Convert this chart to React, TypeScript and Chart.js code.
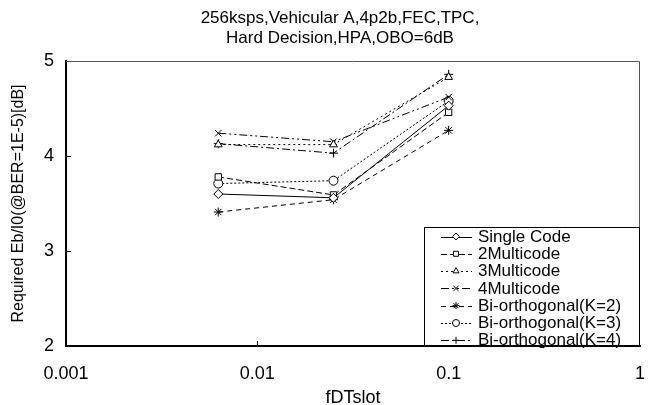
import React, { useEffect, useRef } from "react";
import { Chart, registerables } from "chart.js";
import { drawPoint } from "chart.js/helpers";

Chart.register(...registerables);

const titleLines = ["256ksps,Vehicular A,4p2b,FEC,TPC,", "Hard Decision,HPA,OBO=6dB"];
const xLabel = "fDTslot";
const yLabel = "Required Eb/I0(@BER=1E-5)[dB]";
const xValues = [0.00625, 0.025, 0.1];
const xTicks = [0.001, 0.01, 0.1, 1];
const yTicks = [2, 3, 4, 5];

const seriesNames = [
  "Single Code",
  "2Multicode",
  "3Multicode",
  "4Multicode",
  "Bi-orthogonal(K=2)",
  "Bi-orthogonal(K=3)",
  "Bi-orthogonal(K=4)",
];
const singleCode = [3.6, 3.56, 4.53];
const multi2 = [3.78, 3.59, 4.46];
const multi3 = [4.12, 4.12, 4.83];
const multi4 = [4.24, 4.15, 4.62];
const biK2 = [3.41, 3.54, 4.27];
const biK3 = [3.71, 3.74, 4.58];
const biK4 = [4.13, 4.03, 4.86];
const seriesValues = [singleCode, multi2, multi3, multi4, biK2, biK3, biK4];

const markers = ["rectRot", "rect", "triangle", "crossRot", "star", "circle", "cross"];
const dashes: number[][] = [[], [6, 3], [2, 3], [8, 3, 2, 3, 2, 3], [5, 4], [2, 2], [8, 3, 2, 3]];
const FONT = "'Liberation Sans', Arial, sans-serif";

const decorPlugin = {
  id: "decor",
  afterDraw(chart: any) {
    const ctx = chart.ctx;
    const a = chart.chartArea;
    const xs = chart.scales.x;
    const ys = chart.scales.y;
    ctx.save();
    // title
    ctx.fillStyle = "#000";
    ctx.font = `17px ${FONT}`;
    ctx.textAlign = "center";
    ctx.textBaseline = "middle";
    titleLines.forEach((t, i) => ctx.fillText(t, 340, 18 + i * 20));
    // top and right border
    ctx.strokeStyle = "#555";
    ctx.lineWidth = 1;
    ctx.beginPath();
    ctx.moveTo(a.left, a.top + 0.5);
    ctx.lineTo(a.right - 0.5, a.top + 0.5);
    ctx.lineTo(a.right - 0.5, a.bottom);
    ctx.stroke();
    // inward ticks
    ctx.strokeStyle = "#000";
    ctx.beginPath();
    xTicks.slice(1, -1).forEach((v) => {
      const px = Math.round(xs.getPixelForValue(v)) + 0.5;
      ctx.moveTo(px, a.bottom);
      ctx.lineTo(px, a.bottom - 5);
    });
    yTicks.slice(1, -1).forEach((v) => {
      const py = Math.round(ys.getPixelForValue(v)) + 0.5;
      ctx.moveTo(a.left, py);
      ctx.lineTo(a.left + 5, py);
    });
    ctx.stroke();
    // legend
    const bx = 424, by = a.bottom - 119, bw = a.right - bx, bh = 119;
    ctx.fillStyle = "#fff";
    ctx.fillRect(bx, by, bw, bh);
    ctx.strokeStyle = "#000";
    ctx.strokeRect(bx + 0.5, by + 0.5, bw - 1, bh - 1);
    ctx.font = `17px ${FONT}`;
    ctx.textAlign = "left";
    seriesNames.forEach((name, i) => {
      const cy = by + 9.5 + i * 17.3;
      ctx.strokeStyle = "#000";
      ctx.lineWidth = 1;
      ctx.setLineDash(dashes[i]);
      ctx.beginPath();
      ctx.moveTo(441, Math.round(cy) + 0.5);
      ctx.lineTo(472, Math.round(cy) + 0.5);
      ctx.stroke();
      ctx.setLineDash([]);
      ctx.fillStyle = "#fff";
      drawPoint(ctx, { pointStyle: markers[i], radius: 3.5, borderWidth: 1, rotation: 0 }, 456, cy);
      ctx.fillStyle = "#000";
      ctx.fillText(name, 478, cy + 0.5);
    });
    ctx.restore();
  },
};

export default function App() {
  const ref = useRef<HTMLCanvasElement>(null);
  useEffect(() => {
    const datasets = seriesNames.map((name, i) => ({
      label: name,
      data: xValues.map((x, j) => ({ x, y: seriesValues[i][j] })),
      borderColor: "#000",
      borderWidth: 1,
      borderDash: dashes[i],
      pointStyle: markers[i],
      pointRadius: 4.5,
      pointBorderColor: "#000",
      pointBackgroundColor: "#fff",
      pointBorderWidth: 1,
      fill: false,
      tension: 0,
    }));
    const chart = new Chart(ref.current!, {
      type: "line",
      data: { datasets },
      plugins: [decorPlugin],
      options: {
        animation: false,
        responsive: false,
        layout: { padding: { top: 61, left: 0, right: 0, bottom: 0 } },
        plugins: { legend: { display: false }, title: { display: false }, tooltip: { enabled: false } },
        scales: {
          x: {
            type: "logarithmic",
            min: 0.001,
            max: 1,
            afterBuildTicks: (s: any) => {
              s.ticks = xTicks.map((v) => ({ value: v }));
            },
            afterFit: (s: any) => {
              s.height = 59;
              s.paddingRight = 13;
            },
            ticks: {
              color: "#000",
              font: { family: FONT, size: 18 },
              padding: 17,
              maxRotation: 0,
              autoSkip: false,
              callback: (v: any) => String(v),
            },
            grid: { display: false, drawTicks: false },
            border: { display: true, color: "#000", width: 2 },
            title: { display: true, text: xLabel, color: "#000", font: { family: FONT, size: 18 }, padding: { top: -4, bottom: -4 } },
          },
          y: {
            type: "linear",
            min: 2,
            max: 5,
            afterBuildTicks: (s: any) => {
              s.ticks = yTicks.map((v) => ({ value: v }));
            },
            afterFit: (s: any) => {
              s.width = 66;
            },
            ticks: { color: "#000", font: { family: FONT, size: 18 }, padding: 12 },
            grid: { display: false, drawTicks: false },
            border: { display: true, color: "#000", width: 2 },
            title: { display: true, text: yLabel, color: "#000", font: { family: FONT, size: 16 }, padding: { top: 9, bottom: 0 } },
          },
        },
      } as any,
    });
    return () => chart.destroy();
  }, []);
  return (
    <div style={{ position: "fixed", left: 0, top: 0, width: 653, height: 405, background: "#fff" }}>
      <canvas ref={ref} width={653} height={405} style={{ width: 653, height: 405 }} />
    </div>
  );
}
